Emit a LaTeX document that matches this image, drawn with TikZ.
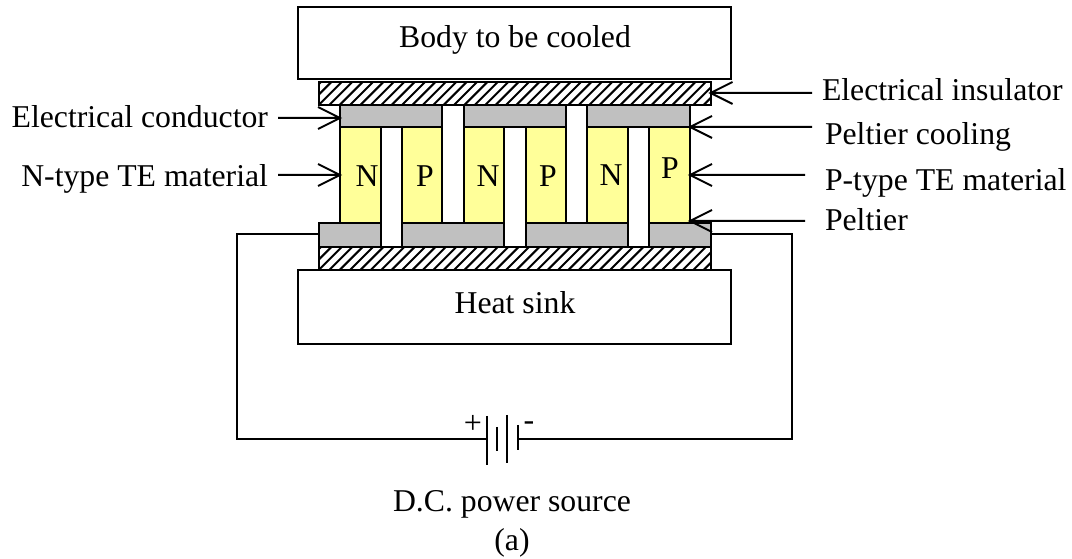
\documentclass[tikz,border=0pt]{standalone}
\usepackage{fontspec}
\setmainfont{Liberation Serif}
\definecolor{teyellow}{RGB}{255,255,153}
\definecolor{condgray}{RGB}{192,192,192}
\newcommand{\blk}[6]{%
  \pgfmathsetmacro{\bw}{#5-#3}\pgfmathsetmacro{\bh}{#6-#4}%
  \pgfmathsetmacro{\bx}{(#3+#5)/2}\pgfmathsetmacro{\by}{(#4+#6)/2}%
  \node[#2,minimum width=\bw*0.75pt,minimum height=\bh*0.75pt] (#1) at (\bx,\by) {};}
% shaft from the free end to the target, then an open V head at the target
\newcommand{\ptr}[3]{\draw[pointer] (#1) -- (#2) (#2) ++(#3,-11) -- (#2) -- ++(#3,11);}
\tikzset{
  blockbase/.style={draw=black,line width=1.5pt,inner sep=0pt,outer sep=0pt,rectangle},
  plainbox/.style={blockbase,fill=white},
  hatchbox/.style={blockbase},
  condbox/.style={blockbase,fill=condgray},
  tebox/.style={blockbase,fill=teyellow},
  lbl/.style={inner sep=0pt,outer sep=0pt,anchor=base,font=\fontsize{23.8}{28}\selectfont},
  lblw/.style={lbl,anchor=base west},
  lble/.style={lbl,anchor=base east},
  sign/.style={inner sep=0pt,outer sep=0pt,font=\fontsize{24}{28}\selectfont},
  wire/.style={draw=black,line width=1.5pt},
  plate/.style={draw=black,line width=1.7pt},
  pointer/.style={draw=black,line width=1.5pt,line join=miter},
}
\begin{document}
\begin{tikzpicture}[x=0.75pt,y=-0.75pt]
\useasboundingbox (0,0) rectangle (1072,559);
% main blocks
\blk{body}{plainbox}{298}{7.5}{731}{79.5}
\blk{sink}{plainbox}{298}{270}{731}{344}
\begin{scope}
\clip (319,82) rectangle (710.5,105) (319,247) rectangle (710.5,270);
\foreach \k in {0,...,42} {
  \draw[line width=1.5pt] ({296+\k*10.4},107) -- ++(27,-27);
  \draw[line width=1.5pt] ({296+\k*10.4},272) -- ++(27,-27);
}
\end{scope}
\blk{ins}{hatchbox}{319}{82}{710.5}{105}
\blk{hins}{hatchbox}{319}{247}{710.5}{270}
% top conductors
\blk{ct1}{condbox}{340}{105}{442}{127}
\blk{ct2}{condbox}{464}{105}{566}{127}
\blk{ct3}{condbox}{587}{105}{690}{127}
% thermoelectric legs
\blk{n1}{tebox}{340}{127}{381}{223}
\blk{p1}{tebox}{402}{127}{442}{223}
\blk{n2}{tebox}{464}{127}{504}{223}
\blk{p2}{tebox}{526}{127}{566}{223}
\blk{n3}{tebox}{587}{127}{628}{223}
\blk{p3}{tebox}{649}{127}{690}{223}
% bottom conductors
\blk{cb1}{condbox}{319}{223}{381}{247}
\blk{cb2}{condbox}{402}{223}{504}{247}
\blk{cb3}{condbox}{526}{223}{628}{247}
\blk{cb4}{condbox}{649}{223}{710.5}{247}
% leg letters
\node[lbl] (ln1) at (367,187) {N};
\node[lbl] (lp1) at (425,187) {P};
\node[lbl] (ln2) at (488,187) {N};
\node[lbl] (lp2) at (548,187) {P};
\node[lbl] (ln3) at (611,186) {N};
\node[lbl] (lp3) at (670,179) {P};
% texts
\node[lbl] (tbody) at (515,48) {Body to be cooled};
\node[lbl] (tsink) at (515,314) {Heat sink};
\node[lblw] (tins) at (822,101) {Electrical insulator};
\node[lblw] (tcool) at (825,145) {Peltier cooling};
\node[lblw] (tptype) at (825,191) {P-type TE material};
\node[lblw] (tpel) at (825,231) {Peltier};
\node[lble] (tcond) at (268,128) {Electrical conductor};
\node[lble] (tntype) at (268,187) {N-type TE material};
\node[lbl] (tdc) at (512,512) {D.C. power source};
\node[lbl] (ta) at (512,551) {(a)};
% pointers
\coordinate (s1) at (278,118);
\coordinate (s2) at (278,175);
\coordinate (s3) at (812,93);
\coordinate (s4) at (812,127);
\coordinate (s5) at (805,175);
\coordinate (s6) at (805,221);
\coordinate (t1) at (s1 -| ct1.west);
\coordinate (t2) at (s2 -| n1.west);
\coordinate (t3) at (s3 -| ins.east);
\coordinate (t4) at (s4 -| ct3.east);
\coordinate (t5) at (s5 -| p3.east);
\coordinate (t6) at (s6 -| p3.east);
\ptr{s1}{t1}{-22}
\ptr{s2}{t2}{-22}
\ptr{s3}{t3}{22}
\ptr{s4}{t4}{22}
\ptr{s5}{t5}{22}
\ptr{s6}{t6}{22}
% battery
\coordinate (b1t) at (487,416); \coordinate (b1b) at (487,465);
\coordinate (b2t) at (497,427); \coordinate (b2b) at (497,451);
\coordinate (b3t) at (507,415); \coordinate (b3b) at (507,463);
\coordinate (b4t) at (518,425); \coordinate (b4b) at (518,450);
\draw[plate] (b1t) -- (b1b);
\draw[plate] (b2t) -- (b2b);
\draw[plate] (b3t) -- (b3b);
\draw[plate] (b4t) -- (b4b);
\coordinate (wl) at (487,439);
\coordinate (wr) at (518,439);
\draw[wire] (cb1.west |- 0,234) -- (237,234) -- (237,439) -- (wl);
\draw[wire] (cb4.east |- 0,234) -- (792,234) -- (792,439) -- (wr);
\node[sign] (plus) at (473,424) {+};
\node[sign] (minus) at (529,426) {-};
\end{tikzpicture}
\end{document}
